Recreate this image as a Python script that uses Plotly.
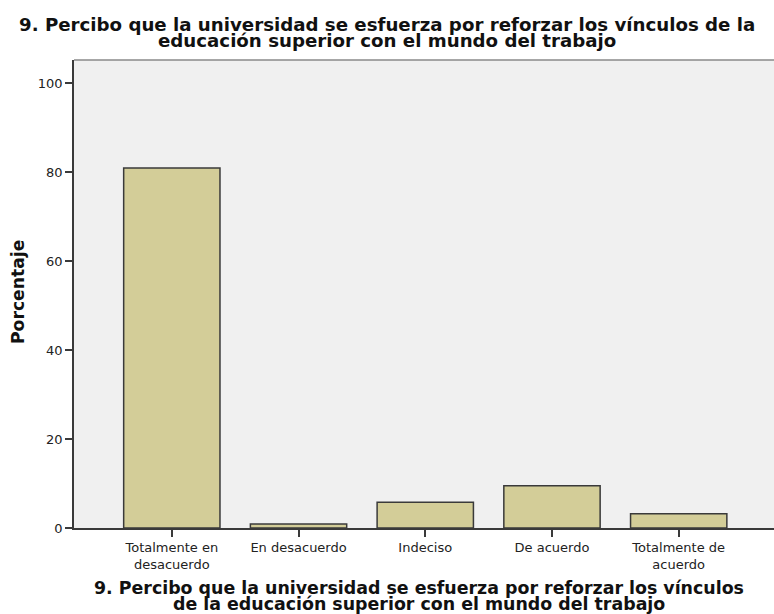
import plotly.graph_objects as go

categories = ["Totalmente en<br>desacuerdo", "En desacuerdo", "Indeciso", "De acuerdo", "Totalmente de<br>acuerdo"]
percentages = [80.9, 0.9, 5.8, 9.5, 3.2]
y_ticks = [0, 20, 40, 60, 80, 100]

title_lines = ["9. Percibo que la universidad se esfuerza por reforzar los vínculos de la",
               "educación superior con el mundo del trabajo"]
xtitle_lines = ["9. Percibo que la universidad se esfuerza por reforzar los vínculos",
                "de la educación superior con el mundo del trabajo"]
ytitle = "Porcentaje"

FONT = "DejaVu Sans"
W, H = 774, 614
ML, MR, MT, MB = 74, 0, 60, 86
PW = W - ML - MR
PH = H - MT - MB


def px_x(p):
    return (p - ML) / PW


def px_y(p):
    return (H - MB - p) / PH


fig = go.Figure(go.Bar(
    x=categories, y=percentages,
    marker=dict(color="#d3cd98", line=dict(color="#3a3a3a", width=1.5)),
    hoverinfo="x+y",
))

fig.update_layout(
    width=W, height=H,
    margin=dict(l=ML, r=MR, t=MT, b=MB, autoexpand=False),
    paper_bgcolor="white", plot_bgcolor="#f0f0f0",
    bargap=0.24,
    showlegend=False,
    font=dict(family=FONT, color="#222222"),
)
fig.update_xaxes(
    type="category", range=[-0.772, 4.752], automargin=False,
    showline=True, linecolor="#3a3a3a", linewidth=1.5,
    ticks="outside", ticklen=7, tickwidth=1.5, tickcolor="#3a3a3a",
    tickfont=dict(size=13, family=FONT, color="#222222"),
    showgrid=False,
)
fig.update_yaxes(
    range=[0, 105.2], tickvals=y_ticks, automargin=False,
    showline=True, linecolor="#3a3a3a", linewidth=1.5,
    ticks="outside", ticklen=7, tickwidth=1.5, tickcolor="#3a3a3a",
    tickfont=dict(size=13, family=FONT, color="#222222"),
    showgrid=False, zeroline=False,
)
# top border of the plot frame
fig.add_shape(type="line", xref="paper", yref="paper", x0=0, x1=1, y0=1, y1=1,
              line=dict(color="#8a8a8a", width=1.5))

# main title (two lines, tight spacing)
for txt, ymid in zip(title_lines, [24, 41]):
    fig.add_annotation(text="<b>" + txt + "</b>", xref="paper", yref="paper",
                       x=px_x(387), y=px_y(ymid), xanchor="center", yanchor="middle",
                       showarrow=False, font=dict(size=18.2, family=FONT, color="#111111"))
# x-axis title
for txt, ymid in zip(xtitle_lines, [588, 604]):
    fig.add_annotation(text="<b>" + txt + "</b>", xref="paper", yref="paper",
                       x=px_x(419), y=px_y(ymid), xanchor="center", yanchor="middle",
                       showarrow=False, font=dict(size=17.4, family=FONT, color="#111111"))
# y-axis title
fig.add_annotation(text="<b>" + ytitle + "</b>", xref="paper", yref="paper",
                   x=px_x(18), y=px_y(292), xanchor="center", yanchor="middle",
                   textangle=-90, showarrow=False,
                   font=dict(size=17.2, family=FONT, color="#111111"))

fig.write_html("out.html", config={"displayModeBar": False},
               post_script="document.body.style.margin='0';")
